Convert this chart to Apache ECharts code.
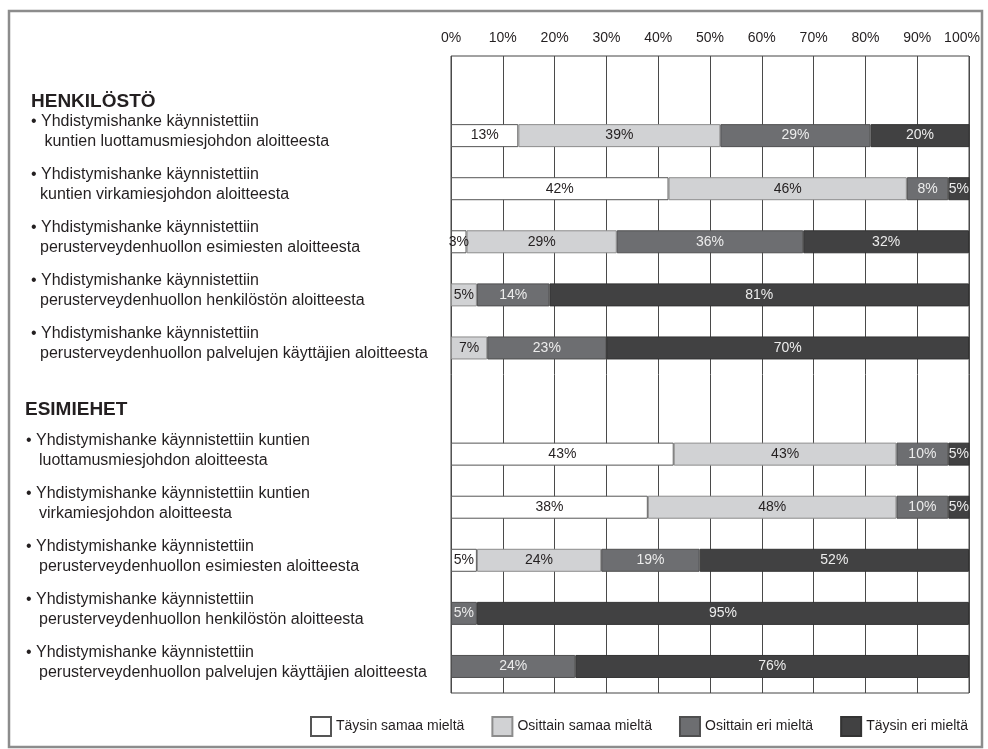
<!DOCTYPE html>
<html>
<head>
<meta charset="utf-8">
<script src="https://cdn.jsdelivr.net/npm/echarts@6/dist/echarts.min.js"></script>
<style>
  html, body { margin: 0; padding: 0; background: #ffffff; }
  #chart { width: 988px; height: 749px; }
</style>
</head>
<body>
<div id="chart"></div>
<script>
// Group headings and the statements answered in each group
const groupTitles = ['HENKILÖSTÖ', 'ESIMIEHET'];

const henkilostoItems = [
  ['Yhdistymishanke käynnistettiin', ' kuntien luottamusmiesjohdon aloitteesta'],
  ['Yhdistymishanke käynnistettiin', 'kuntien virkamiesjohdon aloitteesta'],
  ['Yhdistymishanke käynnistettiin', 'perusterveydenhuollon esimiesten aloitteesta'],
  ['Yhdistymishanke käynnistettiin', 'perusterveydenhuollon henkilöstön aloitteesta'],
  ['Yhdistymishanke käynnistettiin', 'perusterveydenhuollon palvelujen käyttäjien aloitteesta']
];

const esimiehetItems = [
  ['Yhdistymishanke käynnistettiin kuntien', 'luottamusmiesjohdon aloitteesta'],
  ['Yhdistymishanke käynnistettiin kuntien', 'virkamiesjohdon aloitteesta'],
  ['Yhdistymishanke käynnistettiin', 'perusterveydenhuollon esimiesten aloitteesta'],
  ['Yhdistymishanke käynnistettiin', 'perusterveydenhuollon henkilöstön aloitteesta'],
  ['Yhdistymishanke käynnistettiin', 'perusterveydenhuollon palvelujen käyttäjien aloitteesta']
];

// Answer categories
const seriesNames = ['Täysin samaa mieltä', 'Osittain samaa mieltä', 'Osittain eri mieltä', 'Täysin eri mieltä'];

// Shares (%) per statement: five HENKILÖSTÖ rows followed by five ESIMIEHET rows
const taysinSamaa   = [13, 42, 3, 0, 0, 43, 38, 5, 0, 0];
const osittainSamaa = [39, 46, 29, 5, 7, 43, 48, 24, 0, 0];
const osittainEri   = [29, 8, 36, 14, 23, 10, 10, 19, 5, 24];
const taysinEri     = [20, 5, 32, 81, 70, 5, 5, 52, 95, 76];

// Percentage axis ticks
const tickValues = [0, 10, 20, 30, 40, 50, 60, 70, 80, 90, 100];

// Category slots: heading row, five statements, heading row, five statements
const slots = [];
slots.push({ kind: 'head', group: 1, text: groupTitles[0] });
henkilostoItems.forEach(l => slots.push({ kind: 'item', group: 1, lines: l }));
slots.push({ kind: 'head', group: 2, text: groupTitles[1] });
esimiehetItems.forEach(l => slots.push({ kind: 'item', group: 2, lines: l }));

const categories = slots.map((s, i) => s.kind === 'head' ? s.text : s.lines.join(' ') + ' #' + i);

// Spread row values over the slots (heading rows stay empty, zero shares are not drawn)
function toSlots(values) {
  const out = [];
  let k = 0;
  slots.forEach(s => {
    if (s.kind === 'head') { out.push('-'); }
    else { const v = values[k++]; out.push(v === 0 ? '-' : v); }
  });
  return out;
}

const seriesValues = [taysinSamaa, osittainSamaa, osittainEri, taysinEri];
const fills   = ['#ffffff', '#d1d2d4', '#6d6e71', '#414142'];
const borders = ['#555555', '#8c8c8c', '#4f4f50', '#333333'];
const labelColors = ['#231f20', '#231f20', '#ececec', '#ececec'];

const FONT = '"Liberation Sans", Arial, Helvetica, sans-serif';
const TEXT = '#231f20';

const chart = echarts.init(document.getElementById('chart'), null, { renderer: 'canvas' });

const option = {
  backgroundColor: '#ffffff',
  animation: false,
  textStyle: { fontFamily: FONT },
  graphic: [{
    type: 'rect',
    z: -10,
    shape: { x: 9, y: 11, width: 973, height: 736 },
    style: { fill: 'none', stroke: '#8c8c8c', lineWidth: 2.5 }
  }],
  legend: {
    left: 310,
    top: 716,
    padding: 0,
    icon: 'rect',
    itemWidth: 20,
    itemHeight: 19,
    itemGap: 27,
    textStyle: { fontFamily: FONT, fontSize: 14, color: TEXT },
    data: seriesNames
  },
  grid: {
    left: 451,
    right: 19,
    top: 56,
    bottom: 56,
    show: true,
    borderColor: '#444444',
    borderWidth: 1,
    backgroundColor: 'transparent',
    outerBoundsMode: 'none',
    containLabel: false
  },
  xAxis: {
    type: 'value',
    position: 'top',
    min: tickValues[0],
    max: tickValues[tickValues.length - 1],
    interval: tickValues[1] - tickValues[0],
    axisLine: { show: false },
    axisTick: { show: false },
    splitLine: { show: true, lineStyle: { color: '#4a4a4a', width: 1 } },
    axisLabel: {
      margin: 11,
      fontFamily: FONT,
      fontSize: 14,
      color: TEXT,
      formatter: v => v === tickValues[tickValues.length - 1] ? '{last|' + v + '%}' : v + '%',
      rich: {
        last: { fontFamily: FONT, fontSize: 14, color: TEXT, padding: [0, 14, 0, 0] }
      }
    }
  },
  yAxis: {
    type: 'category',
    inverse: true,
    data: categories,
    axisLine: { show: false },
    axisTick: { show: false },
    splitLine: { show: false },
    axisLabel: {
      interval: 0,
      align: 'left',
      margin: 426,
      padding: [0, 0, 8, 0],
      fontFamily: FONT,
      color: TEXT,
      formatter: (value, index) => {
        const s = slots[index];
        if (s.kind === 'head') return '{h' + s.group + '|' + s.text + '}';
        return '{p' + s.group + '|• ' + s.lines[0] + '}\n{q' + s.group + '|' + s.lines[1] + '}';
      },
      rich: {
        h1: { fontFamily: FONT, fontSize: 19, fontWeight: 'bold', color: TEXT, padding: [46, 0, 0, 6] },
        h2: { fontFamily: FONT, fontSize: 19, fontWeight: 'bold', color: TEXT, padding: [25, 0, 0, 0] },
        p1: { fontFamily: FONT, fontSize: 16, lineHeight: 20, color: TEXT, padding: [0, 0, 0, 6] },
        q1: { fontFamily: FONT, fontSize: 16, lineHeight: 20, color: TEXT, padding: [0, 0, 0, 15] },
        p2: { fontFamily: FONT, fontSize: 16, lineHeight: 20, color: TEXT, padding: [0, 0, 0, 1] },
        q2: { fontFamily: FONT, fontSize: 16, lineHeight: 20, color: TEXT, padding: [0, 0, 0, 14] }
      }
    }
  },
  series: seriesNames.map((name, si) => ({
    name: name,
    type: 'bar',
    stack: 'total',
    barWidth: 23,
    clip: true,
    data: toSlots(seriesValues[si]),
    itemStyle: { color: fills[si], borderColor: borders[si], borderWidth: 1 },
    emphasis: { disabled: true },
    label: {
      show: true,
      position: 'inside',
      fontFamily: FONT,
      fontSize: 14,
      color: labelColors[si],
      formatter: p => p.value + '%'
    }
  }))
};

chart.setOption(option);
</script>
</body>
</html>
